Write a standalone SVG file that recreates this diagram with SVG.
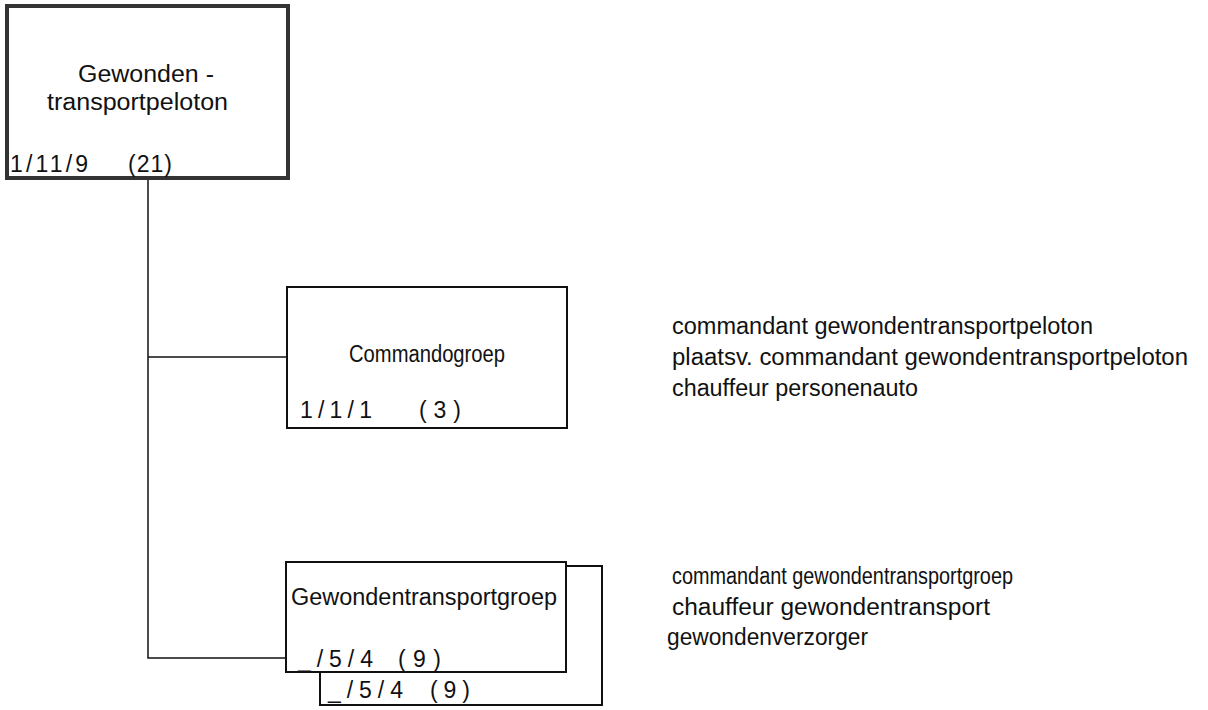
<svg xmlns="http://www.w3.org/2000/svg" width="1208" height="710" viewBox="0 0 1208 710">
<style>
text{font-family:"Liberation Sans",Arial,sans-serif;font-size:23px;fill:#111}
.box{fill:#fff;stroke:#111;stroke-width:2}
.thick{fill:#fff;stroke:#333;stroke-width:4}
.ln{fill:none;stroke:#111;stroke-width:1.5}
</style>
<rect width="1208" height="710" fill="#fff"/>
<g id="connectors">
<path class="ln" d="M148,178 V658 H286"/>
<path class="ln" d="M148,357 H287"/>
</g>
<g id="node-peloton">
<rect class="thick" x="7" y="6" width="281" height="172"/>
<text x="78" y="82" textLength="136" lengthAdjust="spacingAndGlyphs">Gewonden -</text>
<text x="47" y="110" textLength="181" lengthAdjust="spacingAndGlyphs">transportpeloton</text>
<text x="10" y="172" textLength="78" lengthAdjust="spacing">1/11/9</text>
<text x="128" y="172" textLength="44" lengthAdjust="spacing">(21)</text>
</g>
<g id="node-commandogroep">
<rect class="box" x="287" y="287" width="280" height="141"/>
<text x="349" y="362" textLength="156" lengthAdjust="spacingAndGlyphs">Commandogroep</text>
<text x="300" y="418" textLength="72" lengthAdjust="spacing">1/1/1</text>
<text x="419" y="418" textLength="42" lengthAdjust="spacing">(3)</text>
</g>
<g id="node-gewondentransportgroep-2">
<path class="box" d="M566,566 H602 V705 H320 V672"/>
<text x="328" y="698" textLength="75" lengthAdjust="spacing">_/5/4</text>
<text x="430" y="698" textLength="40" lengthAdjust="spacing">(9)</text>
</g>
<g id="node-gewondentransportgroep">
<rect class="box" x="286" y="562" width="280" height="110"/>
<text x="291" y="605" textLength="266" lengthAdjust="spacingAndGlyphs">Gewondentransportgroep</text>
<text x="298" y="667" textLength="75" lengthAdjust="spacing">_/5/4</text>
<text x="398" y="667" textLength="43" lengthAdjust="spacing">(9)</text>
</g>
<g id="list-commandogroep">
<text x="672" y="334" textLength="421" lengthAdjust="spacingAndGlyphs">commandant  gewondentransportpeloton</text>
<text x="672" y="365" textLength="516" lengthAdjust="spacingAndGlyphs">plaatsv. commandant gewondentransportpeloton</text>
<text x="672" y="396" textLength="246" lengthAdjust="spacingAndGlyphs">chauffeur  personenauto</text>
</g>
<g id="list-gewondentransportgroep">
<text x="672" y="584" textLength="341" lengthAdjust="spacingAndGlyphs">commandant gewondentransportgroep</text>
<text x="672" y="615" textLength="318" lengthAdjust="spacingAndGlyphs">chauffeur gewondentransport</text>
<text x="667" y="645" textLength="201" lengthAdjust="spacingAndGlyphs">gewondenverzorger</text>
</g>
</svg>
